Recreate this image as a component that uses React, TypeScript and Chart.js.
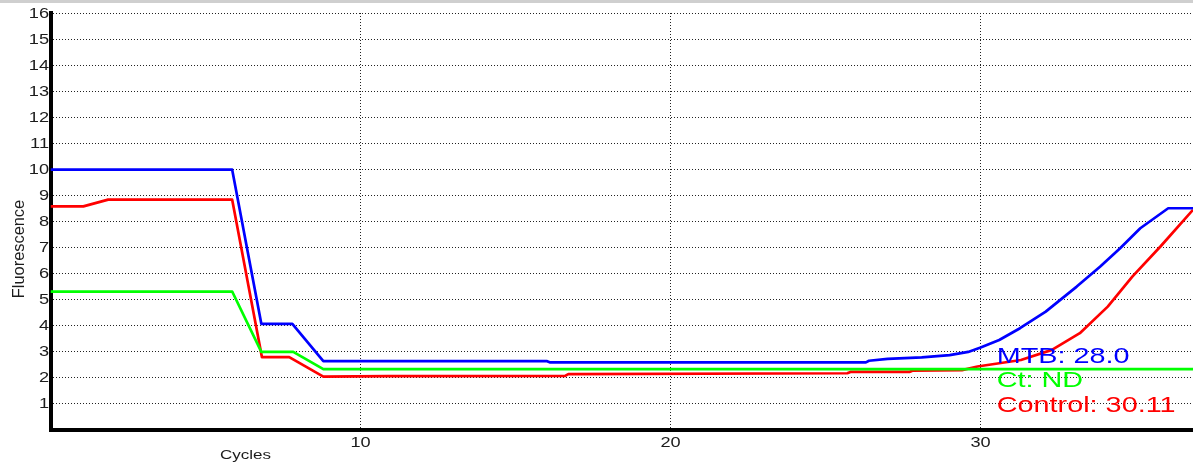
import React, { useEffect, useRef } from "react";
import { Chart, registerables } from "chart.js";

Chart.register(...registerables);

// ---- data (cycles on x, fluorescence on y) ----
const mtbCycles = [0, 5.86, 6.8, 7.8, 8.8, 16.0, 16.1, 26.3, 26.4, 27.0, 28.1, 29.0, 29.6, 30.0, 30.6, 31.27, 32.1, 33.1, 33.85, 34.5, 35.15, 36.05, 36.85];
const mtbValues = [9.98, 9.98, 4.06, 4.06, 2.63, 2.63, 2.58, 2.58, 2.64, 2.71, 2.77, 2.86, 2.98, 3.15, 3.44, 3.89, 4.53, 5.49, 6.25, 6.96, 7.73, 8.5, 8.5];

const ctCycles = [0, 5.86, 6.8, 7.83, 8.8, 36.85];
const ctValues = [5.3, 5.3, 2.98, 2.98, 2.32, 2.32];

const controlCycles = [0, 1.06, 1.86, 5.86, 6.82, 7.7, 8.8, 10.9, 16.6, 16.7, 25.7, 25.8, 27.7, 27.8, 29.4, 29.9, 31.3, 32.3, 33.2, 34.1, 34.9, 35.8, 36.85];
const controlValues = [8.57, 8.57, 8.83, 8.83, 2.78, 2.78, 2.03, 2.05, 2.06, 2.13, 2.16, 2.21, 2.21, 2.26, 2.28, 2.42, 2.67, 3.06, 3.7, 4.72, 5.88, 7.03, 8.44];

const seriesNames = ["MTB", "Ct", "Control"];
const seriesColors = ["#0000ff", "#00ff00", "#ff0000"];
const resultLabels = ["MTB: 28.0", "Ct: ND", "Control: 30.11"];

const xMin = 0;
const xMax = 36.85;
const xStep = 10;
const yMin = 0;
const yMax = 16;
const yStep = 1;
const xTitle = "Cycles";
const yTitle = "Fluorescence";

function toPoints(xs: number[], ys: number[]) {
  return xs.map((x, i) => ({ x, y: ys[i] }));
}

function drawStretched(
  ctx: CanvasRenderingContext2D,
  text: string,
  x: number,
  y: number,
  sx: number,
  align: CanvasTextAlign,
  baseline: CanvasTextBaseline
) {
  ctx.save();
  ctx.translate(x, y);
  ctx.scale(sx, 1);
  ctx.textAlign = align;
  ctx.textBaseline = baseline;
  ctx.fillText(text, 0, 0);
  ctx.restore();
}

const textPlugin = {
  id: "textPlugin",
  beforeDraw(chart: any) {
    const ctx = chart.ctx as CanvasRenderingContext2D;
    ctx.save();
    ctx.fillStyle = "#cfcfcf";
    ctx.fillRect(0, 0, chart.width, 3);
    ctx.restore();
  },
  afterDraw(chart: any) {
    const ctx = chart.ctx as CanvasRenderingContext2D;
    const { x, y } = chart.scales;
    const area = chart.chartArea;
    ctx.save();
    // y tick labels
    ctx.fillStyle = "#1c1c1c";
    ctx.font = '14px "Liberation Sans", Arial, sans-serif';
    y.ticks.forEach((t: any) => {
      if (t.value < 1) return;
      const py = y.getPixelForValue(t.value);
      drawStretched(ctx, String(t.value), area.left - 1.5, py + 1, 1.3, "right", "middle");
    });
    // x tick labels
    x.ticks.forEach((t: any) => {
      if (t.value <= 0) return;
      const px = x.getPixelForValue(t.value);
      drawStretched(ctx, String(t.value), px, area.bottom + 17, 1.3, "center", "alphabetic");
    });
    // axis titles
    ctx.font = '13px "Liberation Sans", Arial, sans-serif';
    drawStretched(ctx, xTitle, 245.5, 459, 1.31, "center", "alphabetic");
    ctx.save();
    ctx.translate(24, 249);
    ctx.rotate(-Math.PI / 2);
    ctx.scale(1.26, 1.29);
    ctx.textAlign = "center";
    ctx.textBaseline = "alphabetic";
    ctx.fillText(yTitle, 0, 0);
    ctx.restore();
    // result labels
    ctx.font = '22px "Liberation Sans", Arial, sans-serif';
    const baselines = [362.7, 387.3, 411.7];
    resultLabels.forEach((label, i) => {
      ctx.fillStyle = seriesColors[i];
      drawStretched(ctx, label, 996.7, baselines[i], 1.31, "left", "alphabetic");
    });
    ctx.restore();
  },
};

export default function App() {
  const canvasRef = useRef<HTMLCanvasElement | null>(null);

  useEffect(() => {
    const canvas = canvasRef.current;
    if (!canvas) return;
    const seriesX = [mtbCycles, ctCycles, controlCycles];
    const seriesY = [mtbValues, ctValues, controlValues];
    const chart = new Chart(canvas, {
      type: "line",
      data: {
        datasets: seriesNames.map((name, i) => ({
          label: name,
          data: toPoints(seriesX[i], seriesY[i]),
          borderColor: seriesColors[i],
          backgroundColor: seriesColors[i],
          borderWidth: 2.7,
          pointRadius: 0,
          tension: 0,
          fill: false,
          borderJoinStyle: "round" as const,
        })),
      },
      options: {
        responsive: false,
        animation: false,
        devicePixelRatio: 1,
        layout: { padding: { left: 50.5, top: 13, right: 0, bottom: 35.5 } },
        plugins: {
          legend: { display: false },
          tooltip: { enabled: false },
          title: { display: false },
        },
        scales: {
          x: {
            type: "linear",
            min: xMin,
            max: xMax,
            ticks: { stepSize: xStep, display: false, includeBounds: false },
            grid: {
              drawTicks: false,
              lineWidth: 1,
              color: (c: any) => (c.tick && c.tick.value > 0 ? "#222222" : "rgba(0,0,0,0)"),
            },
            border: { display: true, color: "#000000", width: 4, dash: [1, 2] },
          },
          y: {
            type: "linear",
            min: yMin,
            max: yMax,
            ticks: { stepSize: yStep, display: false },
            grid: {
              drawTicks: false,
              lineWidth: 1,
              color: (c: any) => (c.tick && c.tick.value > 0 ? "#222222" : "rgba(0,0,0,0)"),
            },
            border: { display: true, color: "#000000", width: 4, dash: [1, 2] },
          },
        },
      },
      plugins: [textPlugin],
    });
    return () => chart.destroy();
  }, []);

  return (
    <div style={{ position: "fixed", left: 0, top: 0, width: 1193, height: 465, background: "#ffffff" }}>
      <canvas ref={canvasRef} width={1193} height={465} style={{ display: "block" }} />
    </div>
  );
}
